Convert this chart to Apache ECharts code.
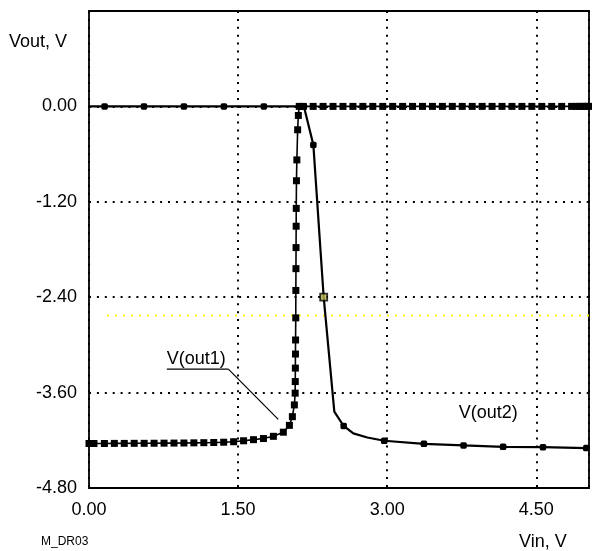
<!DOCTYPE html>
<html>
<head>
<meta charset="utf-8">
<script src="https://cdn.jsdelivr.net/npm/echarts@6/dist/echarts.min.js"></script>
<style>
  html, body { margin: 0; padding: 0; background: #fff; }
  #chart { width: 599px; height: 551px; }
</style>
</head>
<body>
<div id="chart"></div>
<script>
// V(out1): curva con marcadores cuadrados
var vin1 = [0, 0.05, 0.155, 0.255, 0.355, 0.455, 0.555, 0.655, 0.755, 0.855, 0.955, 1.055, 1.155, 1.255, 1.355,
  1.455, 1.555, 1.655, 1.755, 1.855, 1.955, 2.016, 2.046, 2.066, 2.074, 2.075, 2.076, 2.077, 2.078, 2.080, 2.081,
  2.082, 2.083, 2.084, 2.085, 2.087, 2.091, 2.099, 2.106, 2.115,
  2.155, 2.255, 2.355, 2.455, 2.555, 2.655, 2.755, 2.855, 2.955, 3.055, 3.155, 3.255, 3.355, 3.455, 3.555,
  3.655, 3.755, 3.855, 3.955, 4.055, 4.155, 4.255, 4.355, 4.455, 4.555, 4.655, 4.755, 4.855, 4.9, 4.935,
  4.965, 4.99, 5.01, 5.025];
var vout1 = [-4.24, -4.24, -4.24, -4.239, -4.239, -4.238, -4.238, -4.237, -4.236, -4.235, -4.234, -4.232, -4.23, -4.228, -4.224,
  -4.218, -4.206, -4.192, -4.178, -4.15, -4.098, -4.012, -3.903, -3.755, -3.607, -3.461, -3.292, -3.115, -2.938, -2.66, -2.315,
  -2.041, -1.776, -1.507, -1.283, -0.935, -0.673, -0.294, -0.114, 0,
  0, 0, 0, 0, 0, 0, 0, 0, 0, 0, 0, 0, 0, 0, 0,
  0, 0, 0, 0, 0, 0, 0, 0, 0, 0, 0, 0, 0, 0, 0,
  0, 0, 0, 0];

// V(out2): 1 = con marcador, 0 = solo vertice
var vin2 = [0, 0.157, 0.553, 0.955, 1.357, 1.759, 2.162, 2.257, 2.361, 2.468, 2.562, 2.659, 2.8, 2.97, 3.369, 3.768, 4.166, 4.567, 5.003, 5.025];
var vout2 = [0, 0, 0, 0, 0, 0, 0, -0.484, -2.4, -3.84, -4.02, -4.113, -4.165, -4.206, -4.244, -4.264, -4.282, -4.286, -4.298, -4.3];
var mark2 = [0, 1, 1, 1, 1, 1, 1, 1, 0, 0, 1, 0, 0, 1, 1, 1, 1, 1, 1, 0];

// cursor
var cursorX = [2.361];
var cursorY = [-2.4];
var cursorLineX = [0.18, 5.13];
var cursorLineY = [-2.63, -2.63];

var xMin = 0, xMax = 5.03, xStep = 1.5;
var yMin = -4.8, yMax = 1.2, yStep = 1.2;

var FONT = "'Liberation Sans', Arial, sans-serif";
var dotted = { color: '#000', width: 2, type: [2, 5.9] };

var data1 = vin1.map(function (x, i) { return [x, vout1[i]]; });
var data2 = vin2.map(function (x, i) {
  return mark2[i] ? [x, vout2[i]] : { value: [x, vout2[i]], symbol: 'none' };
});

var chart = echarts.init(document.getElementById('chart'));
chart.setOption({
  animation: false,
  backgroundColor: '#fff',
  grid: {
    left: 89, top: 11, width: 500, height: 477,
    show: true, borderColor: '#000', borderWidth: 1.8, backgroundColor: 'transparent'
  },
  xAxis: {
    type: 'value', min: xMin, max: xMax, interval: xStep,
    axisLine: { show: false }, axisTick: { show: false },
    axisLabel: {
      showMaxLabel: false, margin: 13, color: '#000', fontSize: 18, fontFamily: FONT,
      formatter: function (v) { return (Math.abs(v) < 1e-9 ? 0 : v).toFixed(2); }
    },
    splitLine: { show: true, lineStyle: dotted }
  },
  yAxis: {
    type: 'value', min: yMin, max: yMax, interval: yStep,
    axisLine: { show: false }, axisTick: { show: false },
    axisLabel: {
      showMaxLabel: false, margin: 12, color: '#000', fontSize: 18, fontFamily: FONT,
      formatter: function (v) { return (Math.abs(v) < 1e-9 ? 0 : v).toFixed(2); }
    },
    splitLine: { show: true, lineStyle: dotted }
  },
  series: [
    {
      name: 'cursorLine', type: 'line', data: cursorLineX.map(function (x, i) { return [x, cursorLineY[i]]; }),
      symbol: 'none', clip: false, z: 1,
      lineStyle: { color: '#ffff00', width: 2, type: [2, 6] }
    },
    {
      name: 'V(out2)', type: 'line', data: data2, z: 3,
      symbol: 'roundRect', symbolSize: 6.5,
      lineStyle: { color: '#000', width: 2.2 },
      itemStyle: { color: '#000' }
    },
    {
      name: 'V(out1)', type: 'line', data: data1, z: 4,
      symbol: 'rect', symbolSize: 7,
      lineStyle: { color: '#000', width: 1.6 },
      itemStyle: { color: '#000' }
    },
    {
      name: 'cursor', type: 'scatter', z: 5,
      data: cursorX.map(function (x, i) { return [x, cursorY[i]]; }),
      symbol: 'rect', symbolSize: 7,
      itemStyle: { color: '#b8b850', borderColor: '#000', borderWidth: 1.8 }
    }
  ]
});

// anotaciones ancladas a coordenadas de datos
function px(x, y) { return chart.convertToPixel({ gridIndex: 0 }, [x, y]); }
var u0 = px(0.783, -3.304), u1 = px(1.402, -3.304), l1 = px(1.904, -3.936);
var t2 = px(3.72, -3.856);

chart.setOption({
  graphic: [
    { type: 'text', left: 9, top: 33, style: { text: 'Vout, V', fontSize: 18, fontFamily: FONT, fill: '#000' } },
    { type: 'text', left: 519, top: 533, style: { text: 'Vin, V', fontSize: 18, fontFamily: FONT, fill: '#000' } },
    { type: 'text', left: 41, top: 536, style: { text: 'M_DR03', fontSize: 12, fontFamily: FONT, fill: '#000' } },
    { type: 'text', x: u0[0], y: u0[1] - 1, style: { text: 'V(out1)', fontSize: 18, fontFamily: FONT, fill: '#000', verticalAlign: 'bottom' } },
    { type: 'line', shape: { x1: u0[0], y1: u0[1], x2: u1[0], y2: u1[1] }, style: { stroke: '#000', lineWidth: 1.2 } },
    { type: 'line', shape: { x1: u1[0], y1: u1[1], x2: l1[0], y2: l1[1] }, style: { stroke: '#000', lineWidth: 1.2 } },
    { type: 'text', x: t2[0], y: t2[1], style: { text: 'V(out2)', fontSize: 18, fontFamily: FONT, fill: '#000', verticalAlign: 'middle' } }
  ]
});
</script>
</body>
</html>
